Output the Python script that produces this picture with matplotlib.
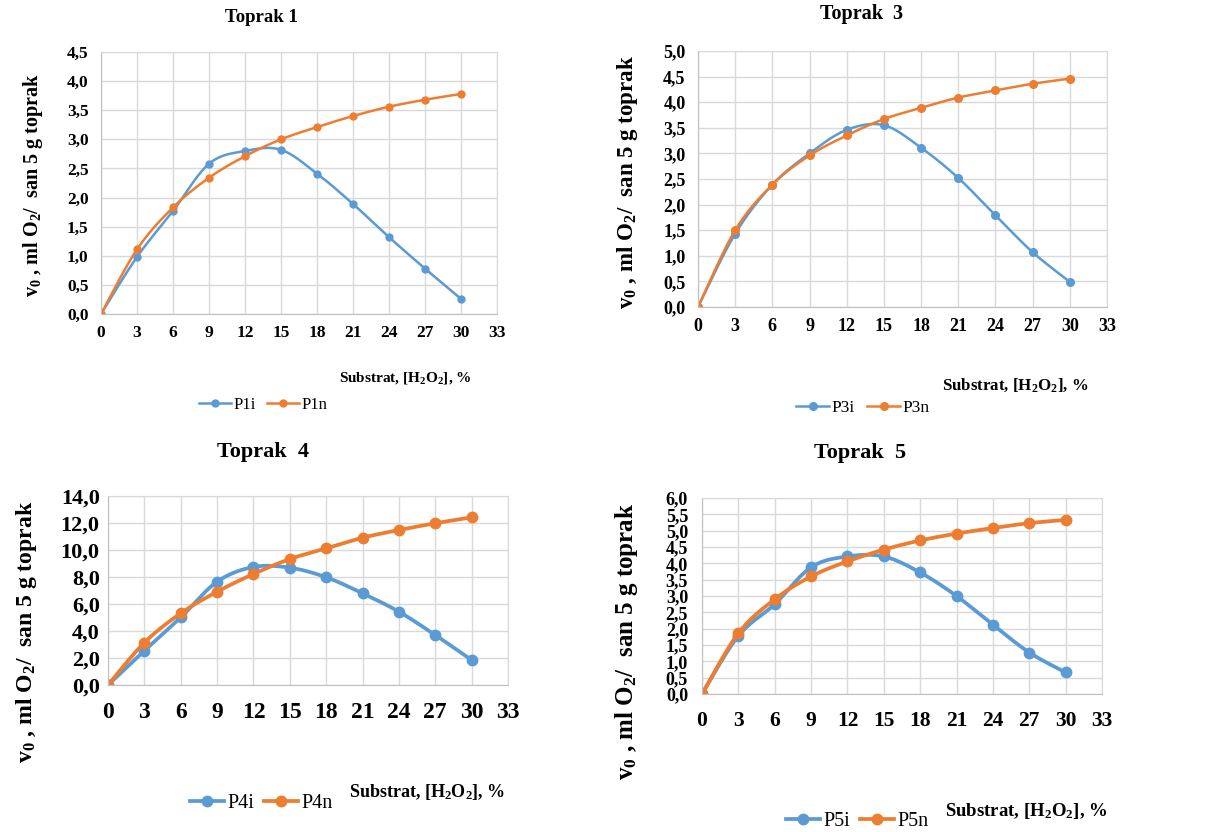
import numpy as np
import matplotlib
matplotlib.use('Agg')
import matplotlib.pyplot as plt

plt.rcParams['font.family'] = ['Liberation Serif', 'DejaVu Serif']
plt.rcParams['mathtext.fontset'] = 'custom'
plt.rcParams['mathtext.rm'] = 'Liberation Serif:bold'
plt.rcParams['mathtext.bf'] = 'Liberation Serif:bold'
plt.rcParams['mathtext.default'] = 'bf'

x = [0, 3, 6, 9, 12, 15, 18, 21, 24, 27, 30]

p1i = [0, 0.98, 1.77, 2.58, 2.80, 2.82, 2.41, 1.89, 1.32, 0.78, 0.26]
p1n = [0, 1.11, 1.83, 2.34, 2.71, 3.00, 3.21, 3.40, 3.56, 3.68, 3.78]

p3i = [0, 1.43, 2.39, 3.00, 3.46, 3.55, 3.11, 2.52, 1.79, 1.07, 0.49]
p3n = [0, 1.50, 2.39, 2.96, 3.35, 3.67, 3.89, 4.09, 4.23, 4.36, 4.46]

p4i = [0, 2.54, 5.01, 7.65, 8.74, 8.69, 7.98, 6.79, 5.43, 3.70, 1.85]
p4n = [0, 3.14, 5.31, 6.91, 8.22, 9.33, 10.12, 10.91, 11.48, 11.98, 12.42]

p5i = [0, 1.78, 2.75, 3.88, 4.21, 4.21, 3.72, 3.00, 2.12, 1.27, 0.66]
p5n = [0, 1.86, 2.90, 3.60, 4.06, 4.42, 4.70, 4.91, 5.08, 5.23, 5.33]

BLUE = '#5B9BD5'
ORANGE = '#ED7D31'
GRID = '#D9D9D9'

W, H = 1222, 832
fig = plt.figure(figsize=(W / 100, H / 100), dpi=100)


def smooth(xs, ys, n=20):
    # excel style smoothed line (bezier through the points)
    xs = np.asarray(xs, float)
    ys = np.asarray(ys, float)
    px, py = [], []
    for i in range(len(xs) - 1):
        x0, y0 = (xs[i - 1], ys[i - 1]) if i > 0 else (xs[i], ys[i])
        x3, y3 = (xs[i + 2], ys[i + 2]) if i + 2 < len(xs) else (xs[i + 1], ys[i + 1])
        c1x = xs[i] + (xs[i + 1] - x0) / 6
        c1y = ys[i] + (ys[i + 1] - y0) / 6
        c2x = xs[i + 1] - (x3 - xs[i]) / 6
        c2y = ys[i + 1] - (y3 - ys[i]) / 6
        t = np.linspace(0, 1, n)
        bx = (1 - t) ** 3 * xs[i] + 3 * (1 - t) ** 2 * t * c1x + 3 * (1 - t) * t ** 2 * c2x + t ** 3 * xs[i + 1]
        by = (1 - t) ** 3 * ys[i] + 3 * (1 - t) ** 2 * t * c1y + 3 * (1 - t) * t ** 2 * c2y + t ** 3 * ys[i + 1]
        px.extend(bx)
        py.extend(by)
    return px, py


def panel(l, t, r, b, yi, yn, names, ymax, ystep, xfs, yfs, xpad, ypad, lw, ms):
    ax = fig.add_axes([l / W, 1 - b / H, (r - l) / W, (b - t) / H])
    for ys, c, nm in [(yi, BLUE, names[0]), (yn, ORANGE, names[1])]:
        sx, sy = smooth(x, ys)
        ax.plot(sx, sy, color=c, lw=lw, solid_capstyle='round')
        ax.plot(x, ys, 'o', color=c, ms=ms)
        ax.plot([], [], '-o', color=c, lw=lw, ms=ms, label=nm)
    ax.set_xlim(0, 33)
    ax.set_ylim(0, ymax)
    ax.set_xticks(np.arange(0, 34, 3))
    yt = np.arange(0, ymax + ystep / 2, ystep)
    ax.set_yticks(yt)
    ax.set_yticklabels([('%.1f' % v).replace('.', ',') for v in yt])
    ax.grid(True, color=GRID, lw=1)
    ax.set_axisbelow(True)
    for s in ax.spines.values():
        s.set_color(GRID)
    ax.spines['left'].set_color('#BFBFBF')
    ax.spines['bottom'].set_color('#BFBFBF')
    ax.tick_params(length=0)
    ax.tick_params(axis='x', labelsize=xfs, pad=xpad)
    ax.tick_params(axis='y', labelsize=yfs, pad=ypad)
    for lab in ax.get_xticklabels() + ax.get_yticklabels():
        lab.set_fontweight('bold')
    return ax


ylab = r'v$_0$ , ml O$_2$/  san 5 g toprak'
xlab = r'Substrat, [H$_2$O$_2$], %'

# Toprak 1
ax1 = panel(101, 52, 497, 314, p1i, p1n, ['P1i', 'P1n'], 4.5, 0.5, 12.5, 12.5, 8, 9, 1.8, 5)
fig.text(261 / W, 1 - 18 / H, 'Toprak 1', ha='center', va='center', fontsize=13.5, fontweight='bold')
fig.text(33 / W, 1 - 185 / H, ylab, rotation=90, ha='center', va='center', fontsize=14.5, fontweight='bold')
fig.text(472 / W, 1 - 378 / H, xlab, ha='right', va='center', fontsize=11, fontweight='bold')
ax1.legend(loc='center', bbox_to_anchor=(263 / W, 1 - 405 / H), bbox_transform=fig.transFigure,
           ncol=2, frameon=False, fontsize=12, handlelength=1.9, columnspacing=0.7, handletextpad=0.15)

# Toprak 3
ax3 = panel(698, 51, 1107, 307, p3i, p3n, ['P3i', 'P3n'], 5.0, 0.5, 13, 13, 8, 9, 1.8, 5.5)
fig.text(862 / W, 1 - 14 / H, 'Toprak  3', ha='center', va='center', fontsize=14.5, fontweight='bold')
fig.text(627 / W, 1 - 182 / H, ylab, rotation=90, ha='center', va='center', fontsize=16.5, fontweight='bold')
fig.text(1088 / W, 1 - 385 / H, xlab, ha='right', va='center', fontsize=12.2, fontweight='bold')
ax3.legend(loc='center', bbox_to_anchor=(863 / W, 1 - 408 / H), bbox_transform=fig.transFigure,
           ncol=2, frameon=False, fontsize=12.5, handlelength=1.9, columnspacing=0.7, handletextpad=0.15)

# Toprak 4
ax4 = panel(108, 496, 508, 685, p4i, p4n, ['P4i', 'P4n'], 14.0, 2.0, 17, 16, 12, 6, 2.7, 7.5)
fig.text(263 / W, 1 - 452 / H, 'Toprak  4', ha='center', va='center', fontsize=16, fontweight='bold')
fig.text(27 / W, 1 - 632 / H, ylab, rotation=90, ha='center', va='center', fontsize=17, fontweight='bold')
fig.text(505 / W, 1 - 792 / H, xlab, ha='right', va='center', fontsize=13, fontweight='bold')
ax4.legend(loc='center left', bbox_to_anchor=(190 / W, 1 - 803 / H), bbox_transform=fig.transFigure,
           ncol=2, frameon=False, fontsize=14.5, handlelength=1.7, columnspacing=0.5, handletextpad=0.15,
           borderpad=0, borderaxespad=0)

# Toprak 5
ax5 = panel(702, 498, 1102, 694, p5i, p5n, ['P5i', 'P5n'], 6.0, 0.5, 15.5, 13, 12, 10, 2.7, 7.5)
fig.text(860 / W, 1 - 453 / H, 'Toprak  5', ha='center', va='center', fontsize=16, fontweight='bold')
fig.text(627 / W, 1 - 641 / H, ylab, rotation=90, ha='center', va='center', fontsize=18, fontweight='bold')
fig.text(1108 / W, 1 - 811 / H, xlab, ha='right', va='center', fontsize=13.5, fontweight='bold')
ax5.legend(loc='center left', bbox_to_anchor=(786 / W, 1 - 821 / H), bbox_transform=fig.transFigure,
           ncol=2, frameon=False, fontsize=14.5, handlelength=1.7, columnspacing=0.5, handletextpad=0.15,
           borderpad=0, borderaxespad=0)

fig.savefig('out.png', dpi=100)
